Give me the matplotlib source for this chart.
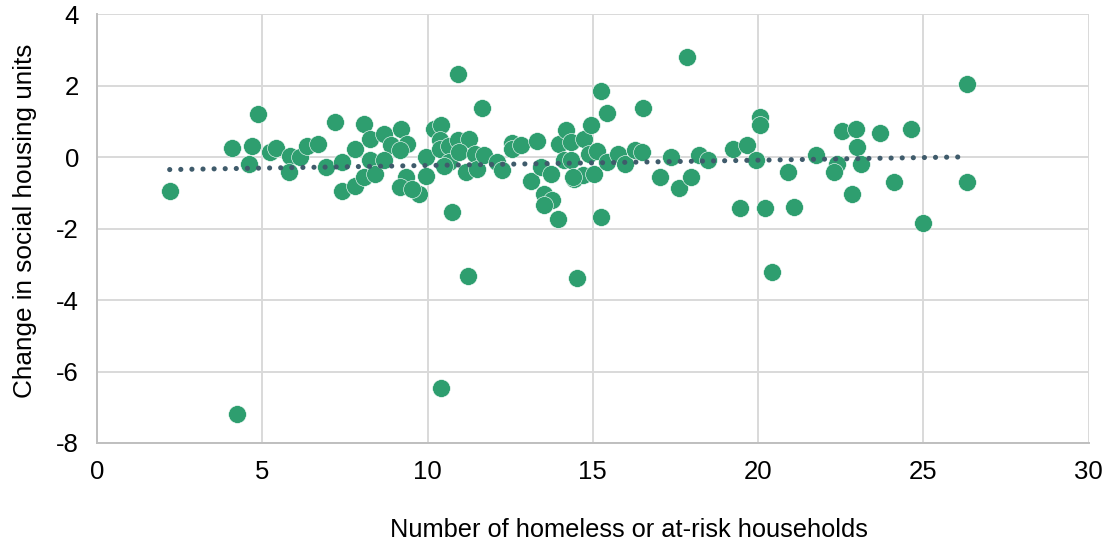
import numpy as np
import matplotlib.pyplot as plt

plt.rcParams['font.family'] = ['Liberation Sans', 'DejaVu Sans']
plt.rcParams['axes.unicode_minus'] = False

# data
homeless = [2.2, 4.1, 4.25, 4.7, 4.86, 4.6, 5.24, 5.42, 5.83, 6.13, 5.81, 6.35, 6.69,
            6.92, 7.2, 7.42, 7.42, 7.82, 7.82, 8.07, 8.07, 8.27, 8.27, 8.68, 8.42,
            8.88, 8.68, 9.21, 9.38, 9.18, 9.36, 9.18, 9.74, 9.54, 9.94, 9.94, 10.19,
            10.42, 10.39, 10.39, 10.65, 10.65, 10.5, 10.93, 10.93, 11.25, 10.95, 11.15,
            11.45, 11.5, 11.7, 11.66, 10.75, 12.11, 12.26, 12.57, 12.57, 12.82, 13.32,
            13.12, 13.42, 13.73, 13.52, 13.78, 13.52, 13.96, 13.97, 14.2, 14.33, 14.13,
            14.33, 14.43, 14.74, 14.69, 14.94, 15.24, 15.42, 14.41, 15.04, 14.89, 15.12,
            15.44, 15.75, 15.98, 16.28, 16.5, 16.52, 15.24, 17.04, 17.36, 17.62, 17.97,
            17.85, 18.2, 18.47, 19.25, 19.67, 19.45, 19.94, 20.06, 20.06, 20.2, 20.9,
            21.1, 21.76, 22.39, 22.31, 22.53, 22.95, 22.98, 23.1, 22.85, 23.69, 24.1,
            24.64, 24.99, 26.33, 26.31, 11.23, 14.53, 20.43, 10.42]
change = [-0.95, 0.25, -7.2, 0.32, 1.2, -0.2, 0.13, 0.26, 0.03, 0.01, -0.43, 0.32, 0.38,
          -0.29, 0.97, -0.15, -0.94, 0.24, -0.81, 0.92, -0.57, 0.5, -0.08, 0.64, -0.46,
          0.34, -0.08, 0.8, 0.36, 0.2, -0.55, -0.83, -1.02, -0.9, 0.01, -0.53, 0.8,
          0.9, 0.48, 0.24, 0.31, -0.13, -0.25, 2.32, 0.48, 0.5, 0.15, -0.41,
          0.1, -0.32, 0.06, 1.36, -1.53, -0.13, -0.36, 0.4, 0.24, 0.34, 0.45,
          -0.66, -0.27, -0.46, -1.02, -1.2, -1.34, -1.74, 0.38, 0.77, 0.43, -0.08,
          -0.08, -0.6, 0.52, -0.5, 0.9, 1.85, 1.22, -0.55, -0.46, 0.1, 0.17,
          -0.13, 0.1, -0.18, 0.21, 0.15, 1.38, -1.69, -0.55, 0.01, -0.86, -0.55,
          2.8, 0.07, -0.08, 0.22, 0.34, -1.42, -0.08, 1.11, 0.91, -1.42, -0.41,
          -1.39, 0.05, -0.2, -0.43, 0.73, 0.78, 0.29, -0.18, -1.04, 0.68, -0.71,
          0.78, -1.85, 2.04, -0.71, -3.32, -3.37, -3.21, -6.47]

x = np.array(homeless)
y = np.array(change)

fig = plt.figure(figsize=(11.12, 5.44), dpi=100)
ax = fig.add_axes([0.0872, 0.1857, 0.8918, 0.7883])

ax.scatter(x, y, s=165, color='#2E9E6F', edgecolors='white', linewidths=0.4, zorder=3)

# linear trendline
m, b = np.polyfit(x, y, 1)
xt = np.array([x.min(), 26.07])
ax.plot(xt, m * xt + b, linestyle=(0, (0.01, 2.15)), color='#3F5B6B', linewidth=3.7,
        dash_capstyle='round', zorder=4)

ax.set_xlim(0, 30)
ax.set_ylim(-8, 4)
ax.set_xticks(np.arange(0, 31, 5))
ax.set_yticks(np.arange(-8, 5, 2))
ax.grid(True, color='#D9D9D9', linewidth=1.4, zorder=0)
ax.set_axisbelow(True)
for side in ['top', 'right']:
    ax.spines[side].set_visible(False)
for side in ['left', 'bottom']:
    ax.spines[side].set_color('#BFBFBF')
    ax.spines[side].set_linewidth(1.4)
ax.tick_params(length=0, labelsize=18.5, colors='#000000')
ax.tick_params(axis='y', pad=13)
ax.tick_params(axis='x', pad=12)

ax.set_xlabel('Number of homeless or at-risk households', fontsize=18.3)
ax.xaxis.set_label_coords(0.536, -0.175, transform=ax.transAxes)
ax.set_ylabel('Change in social housing units', fontsize=18.8)
ax.yaxis.set_label_coords(-0.0605, 0.517, transform=ax.transAxes)

plt.savefig('out.png', dpi=100)
plt.close()
